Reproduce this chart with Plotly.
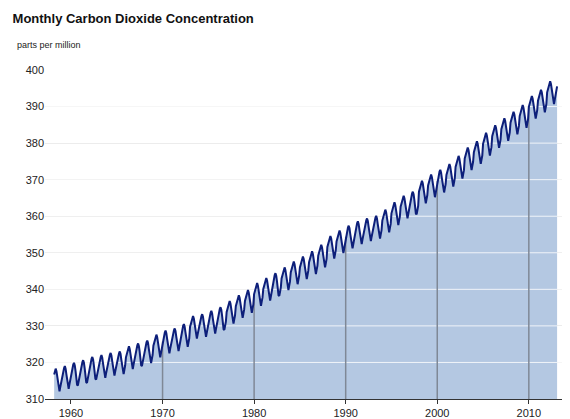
import pandas as pd
import plotly.graph_objects as go

# monthly CO2 (ppm), one row per year, 1958 starts in March, 2013 ends in February
co2_1958 = [316.7, 317.8, 318.3, 317.6, 316.1, 314.1, 312.3, 312.1, 313.3, 314.4]
co2_rows = [
    [316.0, 316.7, 317.4, 318.5, 319.0, 318.3, 316.8, 314.8, 313.0, 312.8, 314.0, 315.1],
    [316.9, 317.6, 318.3, 319.4, 319.9, 319.2, 317.7, 315.7, 313.9, 313.7, 314.9, 316.0],
    [317.6, 318.3, 319.0, 320.1, 320.6, 319.9, 318.4, 316.4, 314.6, 314.4, 315.6, 316.7],
    [318.5, 319.2, 319.9, 321.0, 321.5, 320.8, 319.3, 317.3, 315.5, 315.3, 316.5, 317.6],
    [319.0, 319.7, 320.4, 321.5, 322.0, 321.3, 319.8, 317.8, 316.0, 315.8, 317.0, 318.1],
    [319.6, 320.3, 321.0, 322.1, 322.6, 321.9, 320.4, 318.4, 316.6, 316.4, 317.6, 318.7],
    [320.0, 320.7, 321.4, 322.5, 323.0, 322.3, 320.8, 318.8, 317.0, 316.8, 318.0, 319.1],
    [321.4, 322.1, 322.8, 323.9, 324.4, 323.7, 322.2, 320.2, 318.4, 318.2, 319.4, 320.5],
    [322.2, 322.9, 323.6, 324.7, 325.2, 324.5, 323.0, 321.0, 319.2, 319.0, 320.2, 321.3],
    [323.0, 323.7, 324.4, 325.5, 326.0, 325.3, 323.8, 321.8, 320.0, 319.8, 321.0, 322.1],
    [324.6, 325.3, 326.0, 327.1, 327.6, 326.9, 325.4, 323.4, 321.6, 321.4, 322.6, 323.7],
    [325.7, 326.4, 327.1, 328.2, 328.7, 328.0, 326.5, 324.5, 322.7, 322.5, 323.7, 324.8],
    [326.3, 327.0, 327.7, 328.8, 329.3, 328.6, 327.1, 325.1, 323.3, 323.1, 324.3, 325.4],
    [327.5, 328.2, 328.9, 330.0, 330.5, 329.8, 328.3, 326.3, 324.5, 324.3, 325.5, 326.6],
    [329.7, 330.4, 331.1, 332.2, 332.7, 332.0, 330.5, 328.5, 326.7, 326.5, 327.7, 328.8],
    [330.2, 330.9, 331.6, 332.7, 333.2, 332.5, 331.0, 329.0, 327.2, 327.0, 328.2, 329.3],
    [331.1, 331.8, 332.5, 333.6, 334.1, 333.4, 331.9, 329.9, 328.1, 327.9, 329.1, 330.2],
    [332.1, 332.8, 333.5, 334.6, 335.1, 334.4, 332.9, 330.9, 329.1, 328.9, 330.1, 331.2],
    [333.8, 334.5, 335.2, 336.3, 336.8, 336.1, 334.6, 332.6, 330.8, 330.6, 331.8, 332.9],
    [335.4, 336.1, 336.8, 337.9, 338.4, 337.7, 336.2, 334.2, 332.4, 332.2, 333.4, 334.5],
    [336.8, 337.5, 338.2, 339.3, 339.8, 339.1, 337.6, 335.6, 333.8, 333.6, 334.8, 335.9],
    [338.7, 339.4, 340.1, 341.2, 341.7, 341.0, 339.5, 337.5, 335.7, 335.5, 336.7, 337.8],
    [340.1, 340.8, 341.5, 342.6, 343.1, 342.4, 340.9, 338.9, 337.1, 336.9, 338.1, 339.2],
    [341.4, 342.1, 342.8, 343.9, 344.4, 343.7, 342.2, 340.2, 338.4, 338.2, 339.4, 340.5],
    [343.0, 343.7, 344.4, 345.5, 346.0, 345.3, 343.8, 341.8, 340.0, 339.8, 341.0, 342.1],
    [344.6, 345.3, 346.0, 347.1, 347.6, 346.9, 345.4, 343.4, 341.6, 341.4, 342.6, 343.7],
    [346.0, 346.7, 347.4, 348.5, 349.0, 348.3, 346.8, 344.8, 343.0, 342.8, 344.0, 345.1],
    [347.4, 348.1, 348.8, 349.9, 350.4, 349.7, 348.2, 346.2, 344.4, 344.2, 345.4, 346.5],
    [349.2, 349.9, 350.6, 351.7, 352.2, 351.5, 350.0, 348.0, 346.2, 346.0, 347.2, 348.3],
    [351.6, 352.3, 353.0, 354.1, 354.6, 353.9, 352.4, 350.4, 348.6, 348.4, 349.6, 350.7],
    [353.1, 353.8, 354.5, 355.6, 356.1, 355.4, 353.9, 351.9, 350.1, 349.9, 351.1, 352.2],
    [354.4, 355.1, 355.8, 356.9, 357.4, 356.7, 355.2, 353.2, 351.4, 351.2, 352.4, 353.5],
    [355.6, 356.3, 357.0, 358.1, 358.6, 357.9, 356.4, 354.4, 352.6, 352.4, 353.6, 354.7],
    [356.4, 357.1, 357.8, 358.9, 359.4, 358.7, 357.2, 355.2, 353.4, 353.2, 354.4, 355.5],
    [357.1, 357.8, 358.5, 359.6, 360.1, 359.4, 357.9, 355.9, 354.1, 353.9, 355.1, 356.2],
    [358.8, 359.5, 360.2, 361.3, 361.8, 361.1, 359.6, 357.6, 355.8, 355.6, 356.8, 357.9],
    [360.8, 361.5, 362.2, 363.3, 363.8, 363.1, 361.6, 359.6, 357.8, 357.6, 358.8, 359.9],
    [362.6, 363.3, 364.0, 365.1, 365.6, 364.9, 363.4, 361.4, 359.6, 359.4, 360.6, 361.7],
    [363.7, 364.4, 365.1, 366.2, 366.7, 366.0, 364.5, 362.5, 360.7, 360.5, 361.7, 362.8],
    [366.7, 367.4, 368.1, 369.2, 369.7, 369.0, 367.5, 365.5, 363.7, 363.5, 364.7, 365.8],
    [368.4, 369.1, 369.8, 370.9, 371.4, 370.7, 369.2, 367.2, 365.4, 365.2, 366.4, 367.5],
    [369.7, 370.4, 371.1, 372.2, 372.7, 372.0, 370.5, 368.5, 366.7, 366.5, 367.7, 368.8],
    [371.3, 372.0, 372.7, 373.8, 374.3, 373.6, 372.1, 370.1, 368.3, 368.1, 369.3, 370.4],
    [373.5, 374.2, 374.9, 376.0, 376.5, 375.8, 374.3, 372.3, 370.5, 370.3, 371.5, 372.6],
    [375.8, 376.5, 377.2, 378.3, 378.8, 378.1, 376.6, 374.6, 372.8, 372.6, 373.8, 374.9],
    [377.5, 378.2, 378.9, 380.0, 380.5, 379.8, 378.3, 376.3, 374.5, 374.3, 375.5, 376.6],
    [379.8, 380.5, 381.2, 382.3, 382.8, 382.1, 380.6, 378.6, 376.8, 376.6, 377.8, 378.9],
    [381.9, 382.6, 383.3, 384.4, 384.9, 384.2, 382.7, 380.7, 378.9, 378.7, 379.9, 381.0],
    [383.8, 384.5, 385.2, 386.3, 386.8, 386.1, 384.6, 382.6, 380.8, 380.6, 381.8, 382.9],
    [385.6, 386.3, 387.0, 388.1, 388.6, 387.9, 386.4, 384.4, 382.6, 382.4, 383.6, 384.7],
    [387.4, 388.1, 388.8, 389.9, 390.4, 389.7, 388.2, 386.2, 384.4, 384.2, 385.4, 386.5],
    [389.9, 390.6, 391.3, 392.4, 392.9, 392.2, 390.7, 388.7, 386.9, 386.7, 387.9, 389.0],
    [391.6, 392.3, 393.0, 394.1, 394.6, 393.9, 392.4, 390.4, 388.6, 388.4, 389.6, 390.7],
    [393.9, 394.6, 395.3, 396.4, 396.9, 396.2, 394.7, 392.7, 390.9, 390.7, 391.9, 393.0],
]
co2_2013 = [394.5, 395.5]

y_ticks = [310, 320, 330, 340, 350, 360, 370, 380, 390, 400]
decades = [1960, 1970, 1980, 1990, 2000, 2010]

co2 = co2_1958 + [v for row in co2_rows for v in row] + co2_2013
dates = pd.date_range("1958-03-01", periods=len(co2), freq="MS")
s = pd.Series(co2, index=dates)
x_lo, x_hi = "1957-03-01", "2014-07-01"

fig = go.Figure()
# filled area without outline
fig.add_trace(go.Scatter(x=dates, y=co2, mode="lines", fill="tozeroy",
                         fillcolor="#b4c8e2", line=dict(width=0), hoverinfo="skip"))
# light gridlines over the fill, under the curve
for t in y_ticks[1:]:
    fig.add_trace(go.Scatter(x=[x_lo, x_hi], y=[t, t], mode="lines", hoverinfo="skip",
                             line=dict(color="rgba(255,255,255,0.8)", width=1)))
# decade markers rising from the axis to the curve
for d in decades[1:]:
    key = pd.Timestamp(f"{d}-01-01")
    fig.add_trace(go.Scatter(x=[key, key], y=[310, s[key]], mode="lines", hoverinfo="skip",
                             line=dict(color="#7f8896", width=1.5)))
fig.add_trace(go.Scatter(x=dates, y=co2, mode="lines",
                         line=dict(color="#0d1f7a", width=2), hoverinfo="skip"))

fig.update_layout(
    width=570, height=419,
    margin=dict(l=37, r=8, t=62, b=22),
    paper_bgcolor="white", plot_bgcolor="white",
    font=dict(family="Liberation Sans, Arial", size=11, color="#222"),
    showlegend=False,
    title=dict(text="<b>Monthly Carbon Dioxide Concentration</b>", x=0.008, xanchor="left",
               y=0.985, yanchor="top", font=dict(size=13, color="#111")),
    annotations=[dict(text="parts per million", xref="paper", yref="paper", x=-0.058, y=1.055,
                      xanchor="left", yanchor="bottom", showarrow=False, font=dict(size=9))],
    xaxis=dict(range=[x_lo, x_hi], tickvals=[f"{d}-01-01" for d in decades],
               ticktext=[str(d) for d in decades], showgrid=False, showline=True,
               linecolor="#333", ticks="outside", ticklen=4, tickcolor="#333"),
    yaxis=dict(range=[310, 400], tickvals=y_ticks, showgrid=True, gridcolor="#d9d9d9",
               zeroline=False, showline=False, ticks=""),
)
fig.write_html("out.html")
